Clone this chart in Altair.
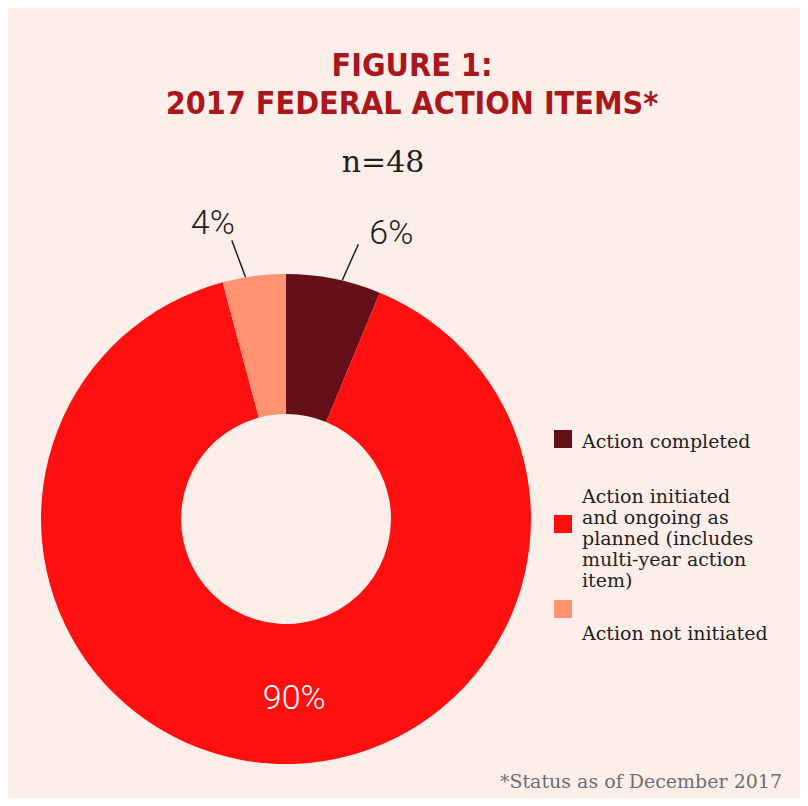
import altair as alt
import pandas as pd

# ---- data ----
categories = [
    "Action completed",
    "Action initiated and ongoing as planned (includes multi-year action item)",
    "Action not initiated",
]
counts = [3, 43, 2]  # n = 48
colors = ["#650F18", "#FF1010", "#FF9270"]
legend_labels = [
    "Action completed",
    "Action initiated\nand ongoing as\nplanned (includes\nmulti-year action\nitem)",
    "Action not initiated",
]
title_lines = ["FIGURE 1:", "2017 FEDERAL ACTION ITEMS*"]
sample_note = "n=48"
footnote = "*Status as of December 2017"

df = pd.DataFrame({"category": categories, "count": counts, "order": list(range(len(categories)))})

# ---- layout constants ----
CX, CY, R_OUT, R_IN = 278, 511, 245, 105
BG = "#FDEEEA"
INK = "#231F20"
SERIF = "DejaVu Serif"
TITLE_FONT = "Liberation Sans Narrow, DejaVu Sans Condensed, sans-serif"

color_scale = alt.Scale(domain=categories, range=colors)
base = alt.Chart(df)

donut = base.mark_arc(outerRadius=R_OUT, innerRadius=R_IN).encode(
    theta=alt.Theta("count:Q", stack=True),
    color=alt.Color("category:N", scale=color_scale, legend=None),
    order=alt.Order("order:Q"),
    x=alt.value(CX),
    y=alt.value(CY),
)

geo = (
    base.transform_joinaggregate(total="sum(count)")
    .transform_window(cum="sum(count)", sort=[alt.SortField("order")], frame=[None, 0])
    .transform_calculate(
        mid="(datum.cum - datum.count / 2) / datum.total * 2 * PI",
        pct="round(100 * datum.count / datum.total) + '%'",
        share="datum.count / datum.total",
    )
    .transform_calculate(side="datum.mid < PI ? 1 : -1")
)

small = geo.transform_filter("datum.share < 0.1").transform_calculate(
    a1="datum.mid + datum.side * 2 * PI / 180",
    a2="datum.mid + datum.side * 3.5 * PI / 180",
).transform_calculate(
    x1=f"{CX} + {R_OUT} * sin(datum.a1)",
    y1=f"{CY} - {R_OUT} * cos(datum.a1)",
    x2=f"{CX} + 284 * sin(datum.a2)",
    y2=f"{CY} - 284 * cos(datum.a2)",
)

leaders = small.mark_rule(color=INK, strokeWidth=1.5).encode(
    x=alt.X("x1:Q", scale=None, axis=None),
    y=alt.Y("y1:Q", scale=None, axis=None),
    x2="x2:Q",
    y2="y2:Q",
)

pct_right = small.transform_filter("datum.side > 0").mark_text(
    align="left", baseline="middle", dx=11, dy=-10, font="Roboto", fontWeight=300, fontSize=34, color=INK
).encode(x=alt.X("x2:Q", scale=None, axis=None), y=alt.Y("y2:Q", scale=None, axis=None), text="pct:N")

pct_left = small.transform_filter("datum.side < 0").mark_text(
    align="right", baseline="middle", dx=3, dy=-16, font="Roboto", fontWeight=300, fontSize=34, color=INK
).encode(x=alt.X("x2:Q", scale=None, axis=None), y=alt.Y("y2:Q", scale=None, axis=None), text="pct:N")

big = geo.transform_filter("datum.share >= 0.1").transform_calculate(
    lx=f"{CX} + 180 * sin(datum.mid)",
    ly=f"{CY} - 180 * cos(datum.mid)",
)
pct_big = big.mark_text(
    align="center", baseline="middle", dx=20, font="Roboto", fontWeight=300, fontSize=34, color="white"
).encode(x=alt.X("lx:Q", scale=None, axis=None), y=alt.Y("ly:Q", scale=None, axis=None), text="pct:N")

# ---- titles ----
ttl = pd.DataFrame({"t": ["\n".join(title_lines)]})
title = alt.Chart(ttl).mark_text(
    font=TITLE_FONT, fontWeight="bold", fontSize=32, color="#A8171C", align="center",
    baseline="alphabetic", lineBreak="\n", lineHeight=38,
).encode(text="t:N", x=alt.value(404), y=alt.value(68))

note = alt.Chart(pd.DataFrame({"t": [sample_note]})).mark_text(
    font=SERIF, fontSize=30, color=INK, align="center", baseline="alphabetic"
).encode(text="t:N", x=alt.value(375), y=alt.value(164))

foot = alt.Chart(pd.DataFrame({"t": [footnote]})).mark_text(
    font=SERIF, fontSize=19, color="#6D6E71", align="right", baseline="alphabetic"
).encode(text="t:N", x=alt.value(774), y=alt.value(780))

# ---- legend (manual) ----
leg_df = pd.DataFrame({"category": categories, "label": legend_labels, "order": list(range(3))})
sq_y = [431, 516, 601]
txt_y = [440, 495, 632]
legend_layers = []
for i in range(len(categories)):
    d = alt.Chart(leg_df).transform_filter(f"datum.order == {i}")
    legend_layers.append(
        d.mark_square(size=324, opacity=1, filled=True).encode(
            color=alt.Color("category:N", scale=color_scale, legend=None),
            x=alt.value(555),
            y=alt.value(sq_y[i]),
        )
    )
    legend_layers.append(
        d.mark_text(font=SERIF, fontSize=19, color=INK, align="left", baseline="alphabetic",
                    lineBreak="\n", lineHeight=21).encode(
            text="label:N", x=alt.value(574), y=alt.value(txt_y[i])
        )
    )

chart = alt.layer(
    donut, leaders, pct_right, pct_left, pct_big, title, note, foot, *legend_layers
).properties(
    width=792,
    height=790,
    autosize=alt.AutoSizeParams(type="none"),
    padding=0,
    background=BG,
).configure_view(stroke=None)

chart.save("out.html", embed_options={"renderer": "svg", "actions": False})
